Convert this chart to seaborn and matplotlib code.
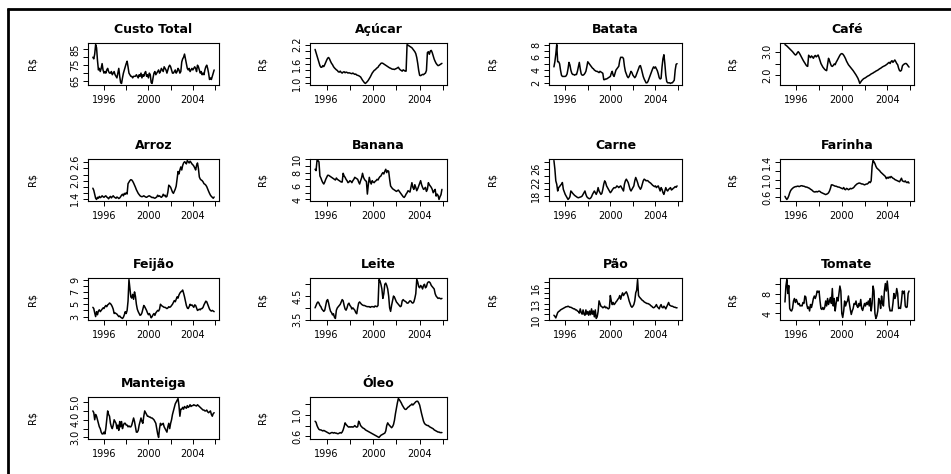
from __future__ import annotations

import matplotlib

matplotlib.use("Agg")
import matplotlib.pyplot as plt
import numpy as np
import pandas as pd
import seaborn as sns
from matplotlib.lines import Line2D


OUT_PNG = "out.png"

START_YEAR = 1995

TITLES = [
    "Custo Total", "Açúcar", "Batata", "Café",
    "Arroz", "Banana", "Carne", "Farinha",
    "Feijão", "Leite", "Pão", "Tomate",
    "Manteiga", "Óleo",
]

# monthly prices, Jan 1995 .. Dec 2005 (one row per year)
CUSTO_TOTAL = [
    80, 79, 82, 88, 86, 78, 72, 73, 71, 73, 76, 72,
    70, 71, 70, 72, 73, 71, 70, 70, 71, 69, 70, 71,
    69, 68, 67, 70, 73, 68, 64, 63.5, 67, 70, 72, 74,
    76, 77.5, 74, 70, 69, 68, 68, 67, 68, 68, 68, 69,
    68, 67, 69, 68, 70, 67, 69, 68, 70, 71, 68, 69,
    67, 70, 69, 64, 63.5, 67, 70, 71, 69, 70, 71, 72,
    70, 71, 73, 72, 71, 74, 73, 72, 70, 72, 74, 75,
    74, 72, 70, 70, 71, 72, 70, 71, 73, 72, 70, 71,
    77, 79, 80, 82, 79, 76, 73, 72, 73, 71, 72, 73,
    72, 73, 74, 73, 71, 75, 74, 72, 70, 71, 69, 70,
    69, 72, 74, 75, 73, 70, 66, 67, 66, 68, 70, 72,
]
ACUCAR = [
    2.05, 1.95, 1.85, 1.75, 1.65, 1.55, 1.50, 1.50, 1.55, 1.52, 1.58, 1.65,
    1.72, 1.78, 1.80, 1.75, 1.68, 1.62, 1.58, 1.52, 1.48, 1.45, 1.42, 1.40,
    1.36, 1.35, 1.38, 1.34, 1.32, 1.35, 1.36, 1.33, 1.35, 1.34, 1.32, 1.33,
    1.32, 1.31, 1.30, 1.32, 1.30, 1.28, 1.29, 1.26, 1.25, 1.24, 1.22, 1.20,
    1.15, 1.10, 1.06, 1.02, 1.00, 1.03, 1.06, 1.10, 1.15, 1.20, 1.26, 1.32,
    1.36, 1.40, 1.42, 1.45, 1.48, 1.50, 1.55, 1.58, 1.62, 1.63, 1.62, 1.60,
    1.58, 1.56, 1.54, 1.52, 1.50, 1.48, 1.47, 1.45, 1.44, 1.44, 1.43, 1.45,
    1.46, 1.48, 1.50, 1.45, 1.42, 1.40, 1.38, 1.42, 1.40, 1.38, 1.38, 2.20,
    2.18, 2.16, 2.14, 2.12, 2.10, 2.06, 2.02, 1.98, 1.92, 1.80, 1.62, 1.40,
    1.25, 1.24, 1.26, 1.28, 1.27, 1.30, 1.32, 1.40, 1.95, 1.98, 1.90, 2.00,
    2.02, 1.95, 1.85, 1.75, 1.68, 1.62, 1.58, 1.55, 1.56, 1.58, 1.60, 1.62,
]
BATATA = [
    4.5, 5.3, 6.5, 8.0, 5.3, 5.3, 5.0, 4.0, 3.2, 3.0, 3.0, 3.0,
    3.0, 3.1, 3.4, 4.2, 5.2, 4.8, 4.0, 3.5, 3.3, 3.3, 3.2, 3.3,
    3.3, 3.8, 4.5, 5.2, 4.2, 3.4, 3.2, 3.2, 3.3, 3.5, 3.8, 4.5,
    5.3, 5.1, 4.9, 4.7, 4.5, 4.3, 4.2, 4.0, 3.9, 3.8, 3.8, 3.7,
    3.6, 3.8, 3.7, 3.6, 3.5, 2.5, 2.5, 2.6, 2.6, 2.7, 2.8, 2.9,
    3.0, 3.5, 3.8, 3.2, 3.0, 3.5, 4.0, 4.2, 4.4, 4.6, 5.5, 6.0,
    6.0, 6.0, 5.8, 4.6, 3.8, 3.4, 3.0, 2.8, 3.0, 3.4, 3.8, 3.6,
    3.2, 3.0, 2.8, 3.0, 3.4, 3.8, 4.2, 4.6, 4.7, 4.2, 3.6, 3.0,
    2.6, 2.3, 2.0, 2.0, 2.2, 2.6, 3.0, 3.4, 3.8, 4.2, 4.5, 4.3,
    4.5, 4.2, 3.9, 3.4, 2.8, 2.6, 2.7, 4.5, 5.8, 6.4, 5.0, 3.2,
    2.2, 2.0, 2.0, 2.0, 1.9, 2.0, 2.0, 2.2, 2.4, 4.0, 4.9, 5.0,
]
CAFE = [
    3.30, 3.27, 3.24, 3.20, 3.16, 3.12, 3.08, 3.04, 3.00, 2.95, 2.90, 2.86,
    2.88, 2.95, 3.00, 2.95, 2.88, 2.80, 2.72, 2.65, 2.58, 2.52, 2.45, 2.40,
    2.38, 2.85, 2.80, 2.75, 2.82, 2.78, 2.72, 2.80, 2.84, 2.78, 2.82, 2.86,
    2.75, 2.62, 2.50, 2.42, 2.35, 2.30, 2.25, 2.22, 2.20, 2.45, 2.72, 2.62,
    2.50, 2.40, 2.38, 2.42, 2.48, 2.45, 2.55, 2.62, 2.70, 2.78, 2.85, 2.90,
    2.92, 2.90, 2.85, 2.78, 2.70, 2.60, 2.52, 2.45, 2.40, 2.35, 2.30, 2.25,
    2.20, 2.14, 2.08, 2.02, 1.95, 1.88, 1.78, 1.66, 1.72, 1.78, 1.82, 1.86,
    1.88, 1.90, 1.93, 1.96, 1.98, 2.00, 2.03, 2.06, 2.08, 2.10, 2.13, 2.15,
    2.18, 2.20, 2.22, 2.25, 2.28, 2.30, 2.33, 2.36, 2.38, 2.40, 2.42, 2.45,
    2.48, 2.52, 2.55, 2.50, 2.58, 2.62, 2.55, 2.60, 2.65, 2.58, 2.50, 2.45,
    2.30, 2.20, 2.18, 2.22, 2.40, 2.45, 2.48, 2.50, 2.50, 2.46, 2.40, 2.35,
]
ARROZ = [
    1.75, 1.68, 1.55, 1.42, 1.38, 1.45, 1.42, 1.48, 1.44, 1.46, 1.50, 1.47,
    1.45, 1.48, 1.50, 1.46, 1.44, 1.40, 1.45, 1.48, 1.43, 1.47, 1.50, 1.46,
    1.44, 1.42, 1.46, 1.44, 1.41, 1.43, 1.47, 1.52, 1.55, 1.50, 1.58, 1.55,
    1.60, 1.56, 1.90, 1.95, 2.00, 2.03, 2.02, 1.98, 1.92, 1.85, 1.78, 1.70,
    1.64, 1.58, 1.54, 1.50, 1.48, 1.47, 1.48, 1.50, 1.48, 1.46, 1.45, 1.47,
    1.49, 1.50, 1.48, 1.46, 1.44, 1.45, 1.43, 1.42, 1.44, 1.46, 1.52, 1.48,
    1.50, 1.47, 1.45, 1.48, 1.55, 1.50, 1.52, 1.46, 1.48, 1.62, 1.85, 1.82,
    1.78, 1.70, 1.62, 1.58, 1.65, 1.72, 1.82, 2.05, 2.30, 2.22, 2.35, 2.45,
    2.35, 2.50, 2.58, 2.62, 2.60, 2.55, 2.66, 2.62, 2.58, 2.64, 2.60, 2.55,
    2.52, 2.48, 2.42, 2.35, 2.50, 2.58, 2.40, 2.12, 2.05, 2.02, 2.00, 1.96,
    1.90, 1.88, 1.85, 1.80, 1.72, 1.65, 1.58, 1.52, 1.48, 1.45, 1.42, 1.46,
]
BANANA = [
    8.5, 8.3, 9.8, 9.8, 9.6, 7.5, 7.2, 6.8, 6.5, 6.3, 6.6, 7.0,
    7.3, 7.6, 7.6, 7.5, 7.4, 7.3, 7.2, 7.1, 7.0, 6.9, 7.2, 7.0,
    6.9, 6.8, 6.7, 6.6, 6.6, 7.9, 7.5, 7.3, 7.0, 6.8, 6.5, 6.6,
    6.8, 6.7, 6.5, 6.8, 7.0, 7.3, 7.2, 7.1, 7.0, 6.6, 6.3, 6.8,
    7.2, 7.9, 7.3, 7.0, 6.8, 6.7, 4.8, 6.2, 7.3, 6.6, 6.3, 6.8,
    6.6, 6.5, 6.7, 6.8, 7.0, 6.9, 7.2, 7.4, 7.5, 7.8, 8.0, 7.8,
    8.2, 8.5, 8.0, 8.3, 8.2, 7.0, 6.0, 5.8, 5.6, 5.5, 5.4, 5.3,
    5.2, 5.3, 5.4, 5.2, 5.0, 4.8, 4.6, 4.4, 4.3, 4.5, 4.8, 5.0,
    5.3, 5.2, 5.1, 5.8, 6.5, 5.8, 5.5, 6.2, 5.8, 5.3, 5.6, 6.0,
    6.4, 6.8, 6.2, 5.8, 5.5, 5.6, 5.8, 5.2, 5.5, 6.5, 6.2, 6.0,
    5.8, 5.5, 5.0, 5.3, 5.5, 4.5, 4.8, 4.6, 4.0, 4.4, 4.7, 5.5,
]
CARNE = [
    28.5, 26.0, 22.5, 21.5, 19.5, 20.5, 20.8, 21.2, 21.5, 22.0, 20.0, 19.2,
    18.5, 18.0, 17.5, 17.0, 17.3, 17.8, 19.5, 19.2, 18.8, 18.5, 18.2, 18.0,
    17.8, 17.6, 17.5, 17.6, 17.7, 17.8, 18.0, 18.5, 19.0, 19.5, 18.5, 17.8,
    17.5, 17.3, 17.2, 17.4, 17.8, 18.5, 19.0, 19.5, 19.0, 18.5, 19.2, 20.5,
    19.5, 19.0, 18.5, 18.8, 20.0, 21.5, 22.5, 22.0, 21.0, 20.5, 20.0, 19.5,
    19.0, 19.3, 19.8, 20.2, 20.5, 20.4, 20.6, 21.0, 20.8, 20.5, 20.8, 21.0,
    20.5, 20.0, 19.5, 21.5, 22.5, 23.0, 22.5, 22.0, 21.0, 20.0, 19.5, 20.0,
    20.5, 21.0, 22.5, 23.5, 22.8, 22.0, 21.0, 20.5, 20.0, 20.5, 21.5, 22.5,
    23.0, 22.8, 22.5, 22.6, 22.5, 22.2, 22.0, 21.8, 21.5, 21.2, 21.0, 20.8,
    21.0, 20.5, 20.8, 21.0, 20.2, 19.5, 20.5, 20.0, 19.0, 18.5, 19.5, 20.5,
    19.8, 19.5, 20.0, 20.2, 20.5, 19.8, 20.0, 20.3, 20.5, 20.8, 20.6, 21.0,
]
FARINHA = [
    0.62, 0.58, 0.55, 0.58, 0.63, 0.70, 0.75, 0.78, 0.80, 0.82, 0.83, 0.84,
    0.84, 0.85, 0.85, 0.84, 0.85, 0.86, 0.86, 0.85, 0.85, 0.84, 0.83, 0.83,
    0.82, 0.81, 0.80, 0.78, 0.77, 0.75, 0.73, 0.72, 0.72, 0.73, 0.72, 0.73,
    0.74, 0.73, 0.71, 0.70, 0.69, 0.68, 0.67, 0.66, 0.67, 0.68, 0.70, 0.74,
    0.80, 0.88, 0.88, 0.87, 0.86, 0.85, 0.85, 0.84, 0.83, 0.83, 0.82, 0.81,
    0.80, 0.79, 0.82, 0.78, 0.77, 0.80, 0.79, 0.77, 0.78, 0.80, 0.79, 0.80,
    0.81, 0.83, 0.86, 0.88, 0.90, 0.91, 0.92, 0.92, 0.91, 0.90, 0.90, 0.89,
    0.88, 0.89, 0.90, 0.90, 0.92, 0.95, 0.93, 0.97, 1.30, 1.43, 1.40, 1.36,
    1.30, 1.26, 1.24, 1.22, 1.20, 1.17, 1.15, 1.13, 1.11, 1.09, 1.07, 1.02,
    1.05, 1.03, 1.06, 1.04, 1.07, 1.05, 1.03, 1.02, 1.00, 0.99, 0.98, 0.97,
    0.96, 0.95, 0.99, 1.03, 0.97, 0.96, 0.95, 0.97, 0.94, 0.93, 0.95, 0.92,
]
FEIJAO = [
    4.5, 4.3, 3.6, 3.0, 3.8, 3.3, 3.9, 4.1, 3.8, 4.0, 4.2, 4.4,
    4.3, 4.6, 4.8, 4.6, 4.9, 5.0, 5.2, 5.1, 4.9, 4.6, 4.2, 3.5,
    3.6, 3.5, 3.4, 3.2, 3.0, 3.1, 2.9, 2.8, 2.7, 2.9, 3.3, 3.8,
    3.5, 4.0, 5.5, 9.0, 7.6, 6.2, 6.0, 6.6, 5.8, 7.0, 6.3, 5.0,
    4.2, 3.8, 3.5, 3.2, 3.3, 3.6, 4.2, 4.8, 4.6, 4.3, 4.0, 3.6,
    3.3, 3.5, 3.2, 2.8, 3.0, 3.3, 3.5, 3.2, 3.6, 3.8, 4.0, 3.9,
    4.2, 5.0, 4.8, 4.7, 4.6, 4.5, 4.5, 4.4, 4.3, 4.4, 4.6, 4.5,
    4.6, 4.8, 5.0, 5.3, 5.6, 5.4, 5.8, 6.2, 6.0, 6.5, 6.8, 7.0,
    7.1, 7.3, 6.8, 6.2, 5.5, 4.8, 4.4, 4.3, 4.6, 5.0, 4.8, 4.9,
    4.7, 4.5, 4.9, 4.8, 4.4, 4.0, 4.1, 4.2, 4.1, 4.3, 4.3, 4.5,
    4.9, 5.2, 5.5, 5.4, 5.0, 4.6, 4.2, 4.0, 3.9, 4.0, 3.9, 3.8,
]
LEITE = [
    4.00, 4.10, 4.20, 4.25, 4.20, 4.10, 4.05, 3.95, 3.90, 3.85, 3.90, 4.10,
    4.30, 4.35, 4.20, 4.00, 3.85, 3.80, 3.70, 3.75, 3.60, 3.55, 3.90, 4.00,
    4.05, 4.10, 4.15, 4.25, 4.35, 4.30, 4.10, 3.95, 3.90, 4.00, 4.15, 4.20,
    4.10, 4.05, 3.95, 4.00, 3.95, 3.90, 3.80, 3.75, 4.00, 4.20, 4.25, 4.20,
    4.15, 4.12, 4.10, 4.10, 4.08, 4.06, 4.05, 4.05, 4.05, 4.02, 4.05, 4.05,
    4.05, 4.03, 4.08, 4.06, 4.05, 4.10, 5.20, 5.15, 5.00, 4.80, 4.40, 4.60,
    5.00, 5.05, 4.95, 4.80, 4.50, 4.00, 3.85, 4.10, 4.30, 4.50, 4.45, 4.35,
    4.25, 4.20, 4.15, 4.10, 4.05, 4.08, 4.30, 4.35, 4.30, 4.28, 4.25, 4.20,
    4.20, 4.25, 4.30, 4.28, 4.22, 4.20, 4.25, 4.40, 4.60, 5.20, 5.10, 4.90,
    4.85, 4.95, 4.90, 4.80, 4.95, 5.00, 4.85, 4.90, 5.05, 5.10, 5.10, 5.05,
    4.95, 4.90, 4.85, 4.80, 4.60, 4.50, 4.45, 4.40, 4.42, 4.40, 4.38, 4.40,
]
PAO = [
    10.8, 10.6, 10.3, 10.8, 11.3, 11.5, 11.6, 11.8, 11.9, 12.0, 12.1, 12.2,
    12.3, 12.4, 12.4, 12.5, 12.4, 12.3, 12.3, 12.2, 12.1, 12.0, 12.0, 11.8,
    11.8, 11.6, 11.5, 11.2, 12.0, 11.3, 11.0, 11.8, 11.0, 10.8, 11.8, 11.0,
    11.5, 10.8, 11.6, 10.9, 12.0, 11.0, 11.6, 10.5, 11.8, 10.2, 10.5, 11.5,
    13.5, 13.0, 12.5, 12.4, 12.2, 12.3, 12.5, 12.2, 12.3, 12.1, 12.0, 12.2,
    14.5, 13.5, 12.8, 13.2, 12.8, 13.0, 13.3, 13.5, 13.8, 14.0, 14.5, 13.8,
    14.5, 15.0, 14.5, 14.8, 15.0, 15.2, 14.8, 14.2, 13.5, 13.0, 12.5, 12.3,
    12.5, 12.8, 13.5, 15.0, 15.5, 17.5, 14.5, 14.2, 14.0, 13.8, 13.6, 13.5,
    13.3, 13.2, 13.1, 13.0, 13.0, 12.9, 12.8, 12.6, 12.5, 12.3, 12.2, 12.3,
    12.5, 12.8, 12.4, 12.2, 12.0, 12.5, 12.8, 12.3, 12.2, 12.5, 12.3, 12.0,
    12.4, 12.8, 13.2, 12.7, 12.6, 12.5, 12.5, 12.4, 12.3, 12.3, 12.2, 12.2,
]
TOMATE = [
    6.3, 9.5, 10.8, 8.0, 9.6, 5.0, 4.6, 4.5, 5.0, 6.5, 7.0, 6.2,
    6.8, 6.3, 5.8, 6.0, 5.5, 5.6, 5.5, 6.2, 6.0, 7.5, 7.3, 5.8,
    5.0, 5.3, 4.5, 5.8, 5.2, 6.0, 7.0, 7.5, 7.0, 7.6, 8.5, 8.3,
    8.5, 6.5, 5.0, 4.8, 5.2, 4.8, 5.2, 6.5, 5.5, 7.0, 5.8, 6.5,
    7.2, 6.0, 9.0, 5.5, 7.0, 4.5, 6.0, 7.2, 6.5, 8.0, 9.5, 8.5,
    4.0, 3.2, 4.5, 6.5, 5.5, 6.2, 6.5, 7.5, 6.0, 4.8, 3.8, 4.5,
    5.0, 6.0, 5.8, 6.5, 5.5, 5.2, 6.0, 5.5, 6.8, 5.0, 4.6, 5.3,
    6.0, 5.5, 6.2, 5.8, 6.5, 5.5, 7.0, 4.5, 6.0, 9.5, 8.5, 4.0,
    3.0, 3.5, 4.5, 7.0, 6.5, 5.0, 7.5, 6.0, 5.5, 8.5, 10.0, 8.5,
    10.5, 8.5, 5.5, 4.5, 4.6, 4.5, 6.0, 8.0, 7.0, 7.5, 9.0, 8.0,
    5.0, 5.2, 5.0, 6.5, 8.5, 8.0, 8.5, 5.5, 5.2, 5.3, 8.0, 8.5,
]
MANTEIGA = [
    4.5, 4.4, 4.0, 4.3, 4.2, 4.0, 3.8, 3.6, 3.5, 3.3, 3.2, 3.2,
    3.3, 3.2, 3.5, 4.0, 4.5, 4.3, 4.2, 3.8, 3.6, 3.5, 3.7, 4.0,
    3.9, 3.8, 3.5, 3.7, 3.4, 3.9, 3.6, 3.9, 3.5, 3.7, 3.8, 3.8,
    3.7, 3.7, 3.6, 3.65, 3.6, 3.6, 3.7, 3.9, 4.1, 3.9, 3.6, 3.3,
    3.3, 3.4, 3.7, 3.9, 4.1, 3.9, 3.8, 4.2, 4.5, 4.4, 4.3, 4.2,
    4.2, 4.15, 4.15, 4.1, 4.1, 4.05, 4.0, 3.9, 3.8, 3.5, 3.2, 3.0,
    3.5, 3.8, 3.7, 3.75, 3.8, 3.6, 3.5, 3.4, 3.3, 3.6, 3.8, 3.5,
    3.8, 4.0, 4.3, 4.5, 4.7, 4.9, 5.0, 5.1, 5.2, 4.8, 4.2, 4.6,
    4.6, 4.7, 4.6, 4.75, 4.7, 4.65, 4.8, 4.7, 4.75, 4.85, 4.75, 4.8,
    4.8, 4.85, 4.82, 4.8, 4.78, 4.85, 4.8, 4.75, 4.7, 4.65, 4.6, 4.55,
    4.55, 4.5, 4.5, 4.55, 4.45, 4.4, 4.45, 4.5, 4.3, 4.2, 4.35, 4.4,
]
OLEO = [
    0.88, 0.86, 0.80, 0.76, 0.73, 0.72, 0.72, 0.71, 0.70, 0.71, 0.70, 0.69,
    0.68, 0.67, 0.66, 0.65, 0.66, 0.67, 0.67, 0.66, 0.67, 0.66, 0.66, 0.65,
    0.65, 0.66, 0.67, 0.66, 0.68, 0.72, 0.78, 0.85, 0.82, 0.80, 0.78, 0.77,
    0.78, 0.77, 0.78, 0.77, 0.78, 0.80, 0.78, 0.77, 0.78, 0.88, 0.85, 0.80,
    0.78, 0.76, 0.75, 0.74, 0.72, 0.71, 0.70, 0.69, 0.68, 0.67, 0.66, 0.65,
    0.64, 0.63, 0.62, 0.61, 0.60, 0.59, 0.58, 0.60, 0.62, 0.63, 0.64, 0.65,
    0.66, 0.70, 0.80, 0.85, 0.82, 0.80, 0.78, 0.76, 0.78, 0.82, 0.90, 1.02,
    1.12, 1.22, 1.30, 1.28, 1.25, 1.22, 1.18, 1.15, 1.12, 1.10, 1.10, 1.12,
    1.14, 1.15, 1.17, 1.18, 1.20, 1.18, 1.20, 1.22, 1.24, 1.25, 1.25, 1.22,
    1.18, 1.10, 1.02, 0.95, 0.88, 0.84, 0.82, 0.81, 0.80, 0.80, 0.78, 0.77,
    0.76, 0.75, 0.74, 0.72, 0.71, 0.70, 0.69, 0.68, 0.68, 0.67, 0.67, 0.67,
]

SERIES = [
    CUSTO_TOTAL, ACUCAR, BATATA, CAFE,
    ARROZ, BANANA, CARNE, FARINHA,
    FEIJAO, LEITE, PAO, TOMATE,
    MANTEIGA, OLEO,
]

Y_TICKS = [
    [65, 70, 75, 80, 85],
    [1.0, 1.2, 1.4, 1.6, 1.8, 2.0, 2.2],
    [2, 3, 4, 5, 6, 7, 8],
    [2.0, 2.5, 3.0],
    [1.4, 1.6, 1.8, 2.0, 2.2, 2.4, 2.6],
    [4, 5, 6, 7, 8, 9, 10],
    [18, 20, 22, 24, 26, 28],
    [0.6, 0.8, 1.0, 1.2, 1.4],
    [3, 4, 5, 6, 7, 8, 9],
    [3.5, 4.0, 4.5, 5.0],
    [10, 11, 12, 13, 14, 15, 16, 17],
    [4, 6, 8, 10],
    [3.0, 3.5, 4.0, 4.5, 5.0],
    [0.6, 0.8, 1.0, 1.2],
]
Y_TICK_LABELS = [
    ["65", "", "75", "", "85"],
    ["1.0", "", "", "1.6", "", "", "2.2"],
    ["2", "", "4", "", "6", "", "8"],
    ["2.0", "", "3.0"],
    ["1.4", "", "", "2.0", "", "", "2.6"],
    ["4", "", "6", "", "8", "", "10"],
    ["18", "", "22", "", "26", ""],
    ["0.6", "", "1.0", "", "1.4"],
    ["3", "", "5", "", "7", "", "9"],
    ["3.5", "", "4.5", ""],
    ["10", "", "", "13", "", "", "16", ""],
    ["4", "", "8", ""],
    ["3.0", "", "4.0", "", "5.0"],
    ["0.6", "", "1.0", ""],
]

X_TICKS = [1996, 1998, 2000, 2002, 2004, 2006]
X_TICK_LABELS = ["1996", "", "2000", "", "2004", ""]
Y_LABEL = "R$"

# layout in pixels of the 951x474 output
FIG_W, FIG_H = 951, 474
COL_LEFT = [88, 310, 549, 780]
COL_WIDTH = [131, 137, 133, 134]
ROW_TOP = [43, 159, 278, 397]
ROW_HEIGHT = 42
YLABEL_X = [32, 263, 492, 733]


def monthly_frame(values: list[float]) -> pd.DataFrame:
    months = np.arange(len(values))
    return pd.DataFrame({"ano": START_YEAR + months / 12.0, "preco": values})


def r_limits(lo: float, hi: float) -> tuple[float, float]:
    pad = 0.04 * (hi - lo)
    return lo - pad, hi + pad


def draw_panel(ax, title, values, ticks, tick_labels, col) -> None:
    frame = monthly_frame(values)
    sns.lineplot(data=frame, x="ano", y="preco", ax=ax, color="black", linewidth=1.1)

    ax.set_xlim(*r_limits(frame["ano"].min(), frame["ano"].max()))
    ax.set_ylim(*r_limits(frame["preco"].min(), frame["preco"].max()))

    ax.set_xticks(X_TICKS)
    ax.set_xticklabels(X_TICK_LABELS)
    ax.set_yticks(ticks)
    ax.set_yticklabels(tick_labels, rotation=90, va="center")

    ax.tick_params(axis="both", direction="out", length=3.5, width=0.7, labelsize=7, color="black")
    ax.tick_params(axis="x", pad=3.5)
    ax.tick_params(axis="y", pad=2.0)

    for spine in ax.spines.values():
        spine.set_visible(True)
        spine.set_linewidth(0.8)
        spine.set_color("black")

    ax.set_title(title, fontsize=9, fontweight="bold", pad=7.5)
    ax.set_xlabel("")
    ax.set_ylabel(Y_LABEL, fontsize=7, va="center")
    ax.yaxis.set_label_coords((YLABEL_X[col] - COL_LEFT[col]) / COL_WIDTH[col], 0.5)


def main() -> None:
    sns.set_style("ticks")
    plt.rcParams["font.family"] = ["DejaVu Sans"]
    plt.rcParams.update(
        {
            "text.color": "black",
            "axes.labelcolor": "black",
            "xtick.color": "black",
            "ytick.color": "black",
            "axes.edgecolor": "black",
        }
    )

    fig = plt.figure(figsize=(FIG_W / 100, FIG_H / 100), dpi=100)
    fig.patch.set_facecolor("white")

    for idx, (title, values) in enumerate(zip(TITLES, SERIES)):
        row, col = divmod(idx, 4)
        rect = [
            COL_LEFT[col] / FIG_W,
            1 - (ROW_TOP[row] + ROW_HEIGHT) / FIG_H,
            COL_WIDTH[col] / FIG_W,
            ROW_HEIGHT / FIG_H,
        ]
        ax = fig.add_axes(rect)
        draw_panel(ax, title, values, Y_TICKS[idx], Y_TICK_LABELS[idx], col)

    # heavy frame on the left and top edges
    fig.add_artist(Line2D([8 / FIG_W, 8 / FIG_W], [0, 1 - 8 / FIG_H], transform=fig.transFigure,
                          color="black", linewidth=2.0, solid_capstyle="butt"))
    fig.add_artist(Line2D([7 / FIG_W, 1], [1 - 9 / FIG_H, 1 - 9 / FIG_H], transform=fig.transFigure,
                          color="black", linewidth=2.0, solid_capstyle="butt"))

    fig.savefig(OUT_PNG, dpi=100, facecolor="white")
    plt.close(fig)


if __name__ == "__main__":
    main()
